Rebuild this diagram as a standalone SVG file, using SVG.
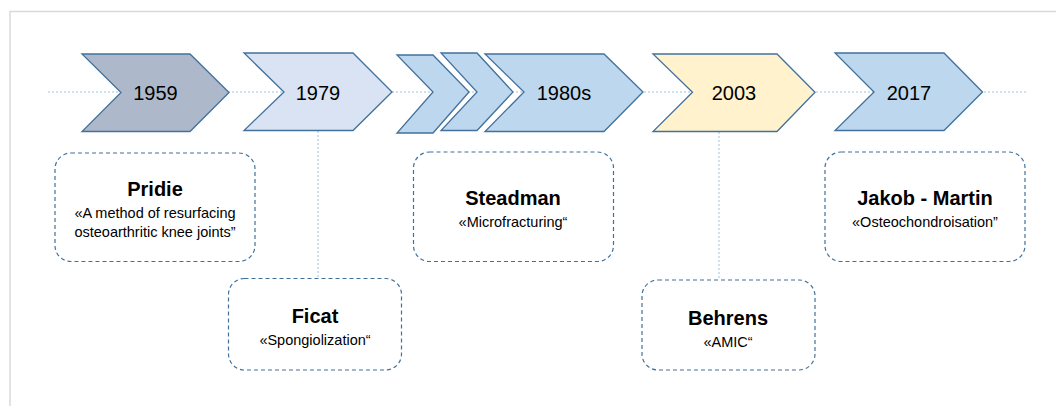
<svg xmlns="http://www.w3.org/2000/svg" width="1056" height="406" viewBox="0 0 1056 406">
<style>
.chev{stroke:#41719c;stroke-width:1.3;stroke-linejoin:miter}
.yr{font-family:"Liberation Sans",Arial,sans-serif;font-size:20px;fill:#000;text-anchor:middle}
.box{fill:#fff;stroke:#41719c;stroke-width:1.2;stroke-dasharray:4 3}
.ttl{font-family:"Liberation Sans",Arial,sans-serif;font-size:20px;font-weight:bold;fill:#000;text-anchor:middle}
.sub{font-family:"Liberation Sans",Arial,sans-serif;font-size:14.5px;fill:#000;text-anchor:middle}
.dot{stroke:#9dc3e6;stroke-width:1;stroke-dasharray:2 2;fill:none}
</style>
<rect x="0" y="0" width="1056" height="406" fill="#fff"/>
<path d="M10,406 V11.5 H1056" fill="none" stroke="#d9d9d9" stroke-width="1.5"/>
<g id="connectors">
<line class="dot" x1="48" y1="92" x2="1027" y2="92"/>
<line class="dot" x1="318" y1="131" x2="318" y2="279"/>
<line class="dot" x1="719" y1="132" x2="719" y2="280"/>
</g>
<g id="n1959">
<polygon class="chev" fill="#adb9ca" points="82,54 190,54 229,92.5 190,131.5 82,131.5 121,92.5"/>
<text class="yr" x="155.5" y="100">1959</text>
</g>
<g id="n1979">
<polygon class="chev" fill="#dae3f3" points="244,53 353,53 392,92 353,130.5 244,130.5 284,92"/>
<text class="yr" x="318" y="100">1979</text>
</g>
<g id="n1980s">
<polygon class="chev" fill="#bdd7ee" points="397,55 433,55 469,92 433,133 397,133 433,92"/>
<polygon class="chev" fill="#bdd7ee" points="441,53 477,53 513,92 477,130.5 441,130.5 477,92"/>
<polygon class="chev" fill="#bdd7ee" points="485,54 604,54 643,92 604,131.5 485,131.5 524,92"/>
<text class="yr" x="564" y="100">1980s</text>
</g>
<g id="n2003">
<polygon class="chev" fill="#fff2cc" points="653,54 777,54 815,92.3 777,131.5 653,131.5 692.5,92.3"/>
<text class="yr" x="734" y="100">2003</text>
</g>
<g id="n2017">
<polygon class="chev" fill="#bdd7ee" points="835,53 944,53 982.5,92 944,130.5 835,130.5 874,92"/>
<text class="yr" x="909" y="100">2017</text>
</g>
<g id="pridie">
<rect class="box" x="55" y="153" width="200" height="108.5" rx="16"/>
<text class="ttl" x="155" y="196">Pridie</text>
<text class="sub" x="155" y="218">«A method of resurfacing</text>
<text class="sub" x="155" y="237">osteoarthritic knee joints”</text>
</g>
<g id="ficat">
<rect class="box" x="228.5" y="278.5" width="173" height="91.5" rx="16"/>
<text class="ttl" x="315" y="323">Ficat</text>
<text class="sub" x="315" y="345">«Spongiolization“</text>
</g>
<g id="steadman">
<rect class="box" x="413.5" y="152" width="200" height="109.5" rx="16"/>
<text class="ttl" x="513" y="205">Steadman</text>
<text class="sub" x="513" y="227">«Microfracturing“</text>
</g>
<g id="behrens">
<rect class="box" x="642" y="280" width="173" height="90" rx="16"/>
<text class="ttl" x="728" y="325">Behrens</text>
<text class="sub" x="728" y="347">«AMIC“</text>
</g>
<g id="jakob">
<rect class="box" x="825" y="152" width="200" height="109.5" rx="16"/>
<text class="ttl" x="925" y="205">Jakob - Martin</text>
<text class="sub" x="925" y="227">«Osteochondroisation”</text>
</g>
</svg>
